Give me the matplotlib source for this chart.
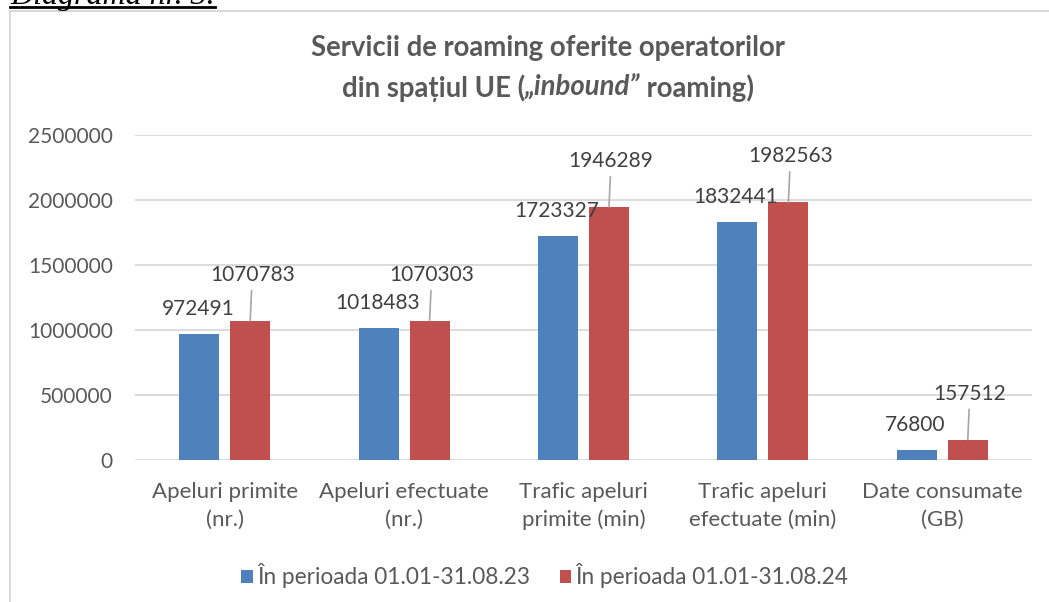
import numpy as np
import matplotlib.pyplot as plt
from matplotlib.patches import Rectangle
from matplotlib.lines import Line2D

plt.rcParams['font.family'] = ['Lato', 'DejaVu Sans']

categories = ["Apeluri primite\n(nr.)", "Apeluri efectuate\n(nr.)",
              "Trafic apeluri\nprimite (min)", "Trafic apeluri\nefectuate (min)",
              "Date consumate\n(GB)"]
val_23 = [972491, 1018483, 1723327, 1832441, 76800]
val_24 = [1070783, 1070303, 1946289, 1982563, 157512]
series = ["În perioada 01.01-31.08.23", "În perioada 01.01-31.08.24"]
yticks = [0, 500000, 1000000, 1500000, 2000000, 2500000]

W, H = 1049, 602
fig = plt.figure(figsize=(W / 100, H / 100), dpi=100)
ax = fig.add_axes([135 / W, 1 - 460 / H, 897 / W, 325 / H])

x = np.arange(len(categories))
w = 0.223
off = 0.142
ax.bar(x - off, val_23, w, color='#4F81BD', label=series[0])
ax.bar(x + off, val_24, w, color='#C0504D', label=series[1])

# data labels
for xi, v in zip(x, val_23):
    ax.annotate(str(v), (xi - off, v), xytext=(-1, 18), textcoords='offset points',
                ha='center', va='center', fontsize=15, color='#404040')
for xi, v in zip(x, val_24):
    ax.annotate(str(v), (xi + off, v), xytext=(1.5, 33), textcoords='offset points',
                ha='center', va='center', fontsize=15, color='#404040',
                arrowprops=dict(arrowstyle='-', color='#A6A6A6', lw=1.2,
                                shrinkA=2, shrinkB=0))

ax.set_xlim(-0.5, len(categories) - 0.5)
ax.set_ylim(0, 2500000)
ax.set_yticks(yticks, [str(t) for t in yticks])
ax.set_xticks(x, categories, fontsize=16, linespacing=1.45)
ax.tick_params(axis='both', length=0, labelcolor='#595959')
ax.tick_params(axis='y', pad=16, labelsize=15)
ax.tick_params(axis='x', pad=16)
ax.grid(axis='y', color='#D9D9D9', lw=1.3)
ax.set_axisbelow(True)
for s in ax.spines.values():
    s.set_visible(False)

fig.legend(loc='center', bbox_to_anchor=(545 / W, 1 - 576 / H), ncol=2,
           frameon=False, fontsize=16.3, labelcolor='#595959',
           handlelength=0.5, handleheight=0.5, handletextpad=0.2,
           columnspacing=1.3)

# chart frame
fig.add_artist(Rectangle((10 / W, -0.1), 1.2, 1.1 - 11 / H, transform=fig.transFigure,
                         fill=False, ec='#D9D9D9', lw=1.5, clip_on=False))

# title
tcol = '#595959'
fig.text(548 / W, 1 - 48 / H, "Servicii de roaming oferite operatorilor",
         ha='center', va='center', fontsize=19.8, weight='bold', color=tcol)
r = fig.canvas.get_renderer()
parts = [("din spațiul UE (", 'normal'), ("„inbound”", 'italic'), (" roaming)", 'normal')]
texts = []
for s, st in parts:
    t = fig.text(0, 1 - 88 / H, s, ha='left', va='center', fontsize=19.8,
                 weight='bold', style=st, color=tcol)
    texts.append(t)
widths = [t.get_window_extent(r).width for t in texts]
start = 548 - sum(widths) / 2
for t, wd in zip(texts, widths):
    t.set_x(start / W)
    start += wd

# caption above the frame, cut by the page edge
cap = fig.text(10 / W, 1 - 4 / H, "Diagrama nr. 3.", family='Liberation Serif',
               style='italic', fontsize=23, va='baseline', color='black')
cw = cap.get_window_extent(r).width
fig.add_artist(Line2D([10 / W, (10 + cw) / W], [1 - 7 / H] * 2, color='black', lw=2))

fig.savefig('out.png', dpi=100)
